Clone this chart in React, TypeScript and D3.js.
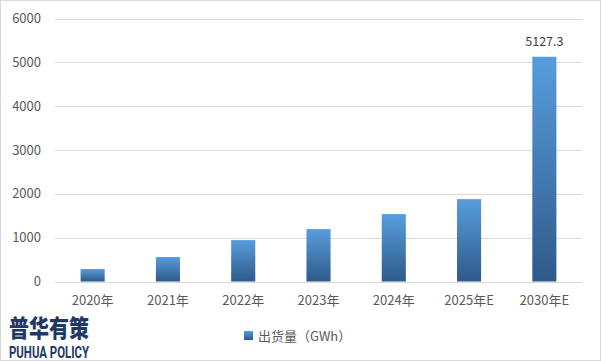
import React from "react";
import * as d3 from "d3";

const categories = ["2020年", "2021年", "2022年", "2023年", "2024年", "2025年E", "2030年E"];
const values = [285, 558, 945, 1196, 1538, 1879, 5127.3];
const yTicks = [0, 1000, 2000, 3000, 4000, 5000, 6000];
const seriesName = "出货量（GWh）";
const labelledIndex = [6];

const W = 601;
const H = 361;
const M = { left: 55, right: 19, top: 18.5, bottom: 79.5 };

export default function App() {
  const x = d3
    .scaleBand<string>()
    .domain(categories)
    .range([M.left, W - M.right])
    .paddingInner(0.68)
    .paddingOuter(0.34);
  const y = d3.scaleLinear().domain([0, 6000]).range([H - M.bottom, M.top]);
  const font = "'Noto Sans CJK SC', 'Noto Sans', sans-serif";
  const txt = "#595959";

  return (
    <svg
      width={W}
      height={H}
      style={{ position: "absolute", left: 0, top: 0, background: "#fff" }}
      fontFamily={font}
    >
      <defs>
        <linearGradient id="barGrad" x1="0" y1="0" x2="0" y2="1">
          <stop offset="0%" stopColor="#579ddd" />
          <stop offset="100%" stopColor="#2f5a8a" />
        </linearGradient>
        <linearGradient id="legGrad" x1="0" y1="0" x2="0" y2="1">
          <stop offset="0%" stopColor="#579ddd" />
          <stop offset="100%" stopColor="#2f5a8a" />
        </linearGradient>
      </defs>
      <rect x={0.5} y={0.5} width={W - 1} height={H - 1} fill="#fff" stroke="#d9d9d9" />
      {yTicks.map((t) => (
        <g key={t}>
          <line
            x1={M.left}
            x2={W - M.right}
            y1={Math.round(y(t)) + 0.5}
            y2={Math.round(y(t)) + 0.5}
            stroke="#d9d9d9"
            strokeWidth={1}
          />
          <text x={41} y={y(t)} dy="0.35em" textAnchor="end" fontSize={13} fill={txt}>
            {t}
          </text>
        </g>
      ))}
      {categories.map((c, i) => (
        <g key={c}>
          <rect
            x={x(c)}
            y={y(values[i])}
            width={x.bandwidth()}
            height={y(0) - y(values[i])}
            fill="url(#barGrad)"
          />
          <text
            x={(x(c) as number) + x.bandwidth() / 2}
            y={300}
            dy="0.35em"
            textAnchor="middle"
            fontSize={13}
            fill={txt}
          >
            {c}
          </text>
          {labelledIndex.includes(i) && (
            <text
              x={(x(c) as number) + x.bandwidth() / 2}
              y={y(values[i]) - 15}
              dy="0.35em"
              textAnchor="middle"
              fontSize={12.5}
              fill="#404040"
            >
              {values[i]}
            </text>
          )}
        </g>
      ))}
      <rect x={244} y={331} width={9} height={9} fill="url(#legGrad)" />
      <text x={258} y={336} dy="0.35em" fontSize={13} fill={txt}>
        {seriesName}
      </text>
      <text
        x={9}
        y={337}
        fontSize={24}
        fontWeight={900}
        fill="#1f3864"
        textLength={80}
        lengthAdjust="spacingAndGlyphs"
        fontFamily="'Noto Sans CJK SC', sans-serif"
      >
        普华有策
      </text>
      <text
        x={9}
        y={358}
        fontSize={16}
        fontWeight={700}
        fill="#1f3864"
        textLength={80}
        lengthAdjust="spacingAndGlyphs"
        fontFamily="'Liberation Sans Narrow', 'Roboto', sans-serif"
      >
        PUHUA POLICY
      </text>
    </svg>
  );
}
